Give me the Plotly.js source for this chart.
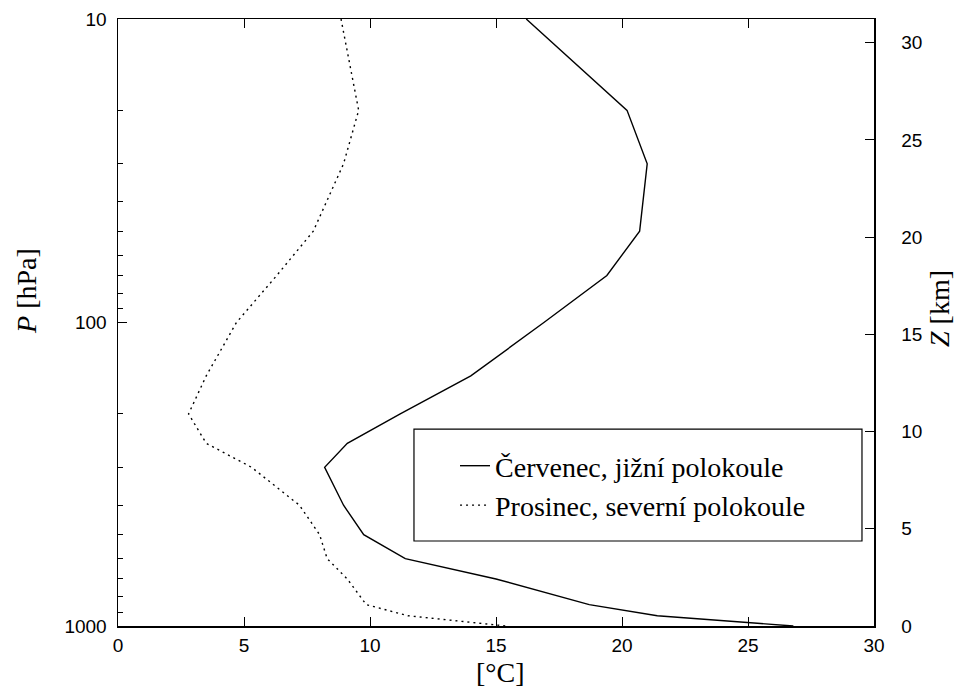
<!DOCTYPE html>
<html><head><meta charset="utf-8">
<script src="https://cdn.plot.ly/plotly-3.0.1.min.js"></script>
</head>
<body style="margin:0;background:#fff">
<div id="chart" style="width:958px;height:690px"></div>
<script>
// Pressure levels [hPa]
const pressure = [10,20,30,50,70,100,150,200,250,300,400,500,600,700,850,925,1000];
// Temperatures [°C]
const tempJulySouth = [16.2,20.2,21.0,20.7,19.4,16.9,14.0,11.2,9.1,8.2,8.95,9.75,11.4,15.0,18.7,21.4,26.8];
const tempDecNorth  = [8.85,9.55,8.95,7.75,6.3,4.7,3.5,2.8,3.5,5.3,7.2,8.0,8.3,9.1,9.85,11.5,15.4];
const seriesNames = ['Červenec, jižní polokoule','Prosinec, severní polokoule'];
const xTicks = [0,5,10,15,20,25,30];
const pTicks = [10,100,1000];
const pMinorTicks = [20,30,40,50,60,70,80,90,200,300,400,500,600,700,800,900];
const zTicks = [0,5,10,15,20,25,30];
const zMax = 31.22;

const tickFont = () => ({family:'Liberation Sans, Arial, sans-serif', size:19, color:'#000'});
const serif = () => ({family:'Liberation Serif, Times New Roman, serif', size:28, color:'#000'});

const traces = [
  {x: tempJulySouth, y: pressure, name: seriesNames[0], type:'scatter', mode:'lines',
   line:{color:'#000', width:1.4}, legendgroup:'a', hoverinfo:'skip'},
  {x: tempDecNorth, y: pressure, name: seriesNames[1], type:'scatter', mode:'lines',
   line:{color:'#000', width:1.4, dash:'2px,4px'}, legendgroup:'b', hoverinfo:'skip'},
  // empty trace that only activates the right-hand height axis
  {x: [], y: [], yaxis:'y2', type:'scatter', mode:'lines', showlegend:false, hoverinfo:'skip'}
];

const layout = {
  width:958, height:690,
  margin:{l:118, r:84, t:19, b:64},
  paper_bgcolor:'#fff', plot_bgcolor:'#fff',
  showlegend:true,
  legend:{x:0.4458, y:0.3048, xanchor:'left', yanchor:'top', bgcolor:'rgba(0,0,0,0)',
          borderwidth:0, font:serif(), tracegroupgap:0},
  xaxis:{range:[0,30], tickvals:xTicks, ticks:'inside', ticklen:9, tickwidth:1, tickcolor:'#000',
         showline:true, linecolor:'#000', linewidth:1.5, mirror:'ticks', showgrid:false, zeroline:false,
         tickfont:tickFont(), ticklabelstandoff:2, fixedrange:true},
  yaxis:{type:'log', range:[3,1], tickvals:pTicks, ticktext:pTicks.map(String),
         ticks:'inside', ticklen:9, tickwidth:1, tickcolor:'#000',
         minor:{tickvals:pMinorTicks, ticks:'inside', ticklen:5, tickwidth:1, tickcolor:'#000', showgrid:false},
         showline:true, linecolor:'#000', linewidth:1.5, showgrid:false, zeroline:false,
         tickfont:tickFont(), ticklabelstandoff:6, fixedrange:true},
  yaxis2:{overlaying:'y', side:'right', anchor:'x', range:[0,zMax], tickvals:zTicks,
          ticks:'inside', ticklen:9, tickwidth:1, tickcolor:'#000', ticklabelposition:'outside',
          showline:true, linecolor:'#000', linewidth:1.5, showgrid:false, zeroline:false,
          tickfont:tickFont(), ticklabelstandoff:22, fixedrange:true},
  shapes:[{type:'rect', xref:'paper', yref:'paper', x0:0.3915, x1:0.9841, y0:0.1400, y1:0.3245,
           line:{color:'#000', width:1.2}, fillcolor:'rgba(0,0,0,0)'}],
  annotations:[
    {text:'<i>P</i> [hPa]', xref:'paper', yref:'paper', x:-0.1204, y:0.5519, textangle:-90,
     showarrow:false, xanchor:'center', yanchor:'middle', font:serif()},
    {text:'<i>Z</i> [km]', xref:'paper', yref:'paper', x:1.0873, y:0.5239, textangle:-90,
     showarrow:false, xanchor:'center', yanchor:'middle', font:serif()},
    {text:'[°C]', xref:'paper', yref:'paper', x:0.5053, y:-0.0758,
     showarrow:false, xanchor:'center', yanchor:'middle', font:serif()}
  ]
};

Plotly.newPlot('chart', traces, layout, {displayModeBar:false, staticPlot:true});
</script>
</body></html>
